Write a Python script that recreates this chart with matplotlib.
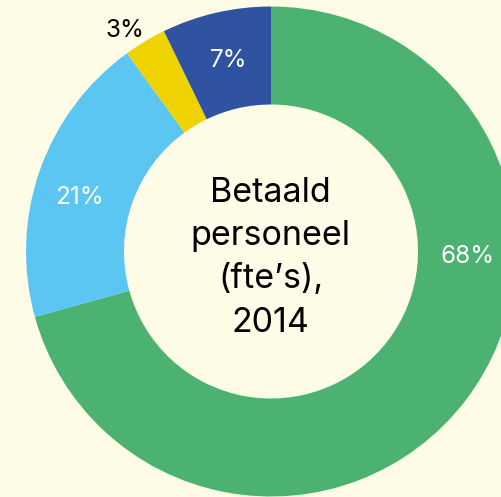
import matplotlib
matplotlib.use('Agg')
from matplotlib import pyplot as plt

# slice shares as drawn (clockwise from 12 o'clock) and their printed labels
shares = [70.7, 19.3, 2.8, 7.2]
labels = ['68%', '21%', '3%', '7%']
colors = ['#4BB272', '#5BC6F1', '#EFD300', '#2F53A0']
label_colors = ['white', 'white', 'black', 'white']
title_lines = ['Betaald', 'personeel', '(fte\u2019s),', '2014']

bg = '#FEFBE6'
W, H = 502, 497

plt.rcParams['font.family'] = ['Inter', 'DejaVu Sans']

fig = plt.figure(figsize=(W / 100, H / 100), dpi=100, facecolor=bg)
ax = fig.add_axes([0, 0, 1, 1])
ax.set_facecolor(bg)

# work in pixel units so the cropped donut lands where it does in the source
cx, cy, R = 271, H - 251.5, 245
ax.pie(shares, colors=colors, startangle=90, counterclock=False,
       radius=R, center=(cx, cy),
       wedgeprops=dict(width=98, linewidth=0))
ax.set_xlim(0, W)
ax.set_ylim(0, H)
ax.set_aspect('auto')
ax.axis('off')

# percentage labels (x centre, baseline y from top)
label_pos = [(468, 262.7), (79.5, 204), (125, 37.3), (229, 66.7)]
for txt, (x, y), c in zip(labels, label_pos, label_colors):
    ax.text(x, H - y, txt, color=c, fontsize=17.5, ha='center', va='baseline')

# centre title, one line at a time
for i, line in enumerate(title_lines):
    ax.text(270.5, H - (201.7 + i * 43.3), line, color='black',
            fontsize=24.5, ha='center', va='baseline')

fig.savefig('out.png', dpi=100, facecolor=bg)
